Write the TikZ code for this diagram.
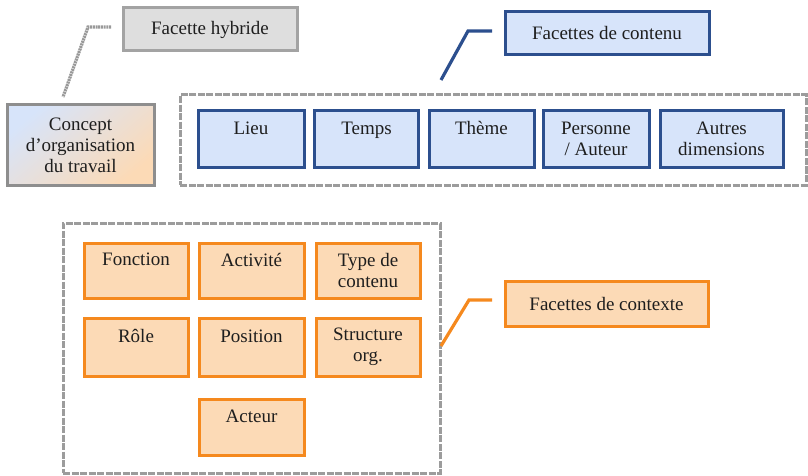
\documentclass[tikz,border=0pt]{standalone}
\usepackage{fontspec}
\setmainfont{Liberation Serif}
\definecolor{bfill}{HTML}{D7E4FA}
\definecolor{bdraw}{HTML}{2C4F8E}
\definecolor{ofill}{HTML}{FCDAB6}
\definecolor{odraw}{HTML}{F5891E}
\definecolor{gfill}{HTML}{DEDEDE}
\definecolor{gdraw}{HTML}{A3A3A3}
\definecolor{frm}{HTML}{9C9C9C}
\definecolor{cdraw}{HTML}{8E8E8E}
\definecolor{txt}{HTML}{1E1E1E}
\begin{document}
\begin{tikzpicture}[x=1pt,y=-1pt,
  every node/.style={font=\fontsize{19}{21}\selectfont, text=txt, align=center, inner sep=2pt},
  box/.style={rectangle, line width=3pt},
  bluebox/.style={box, draw=bdraw, fill=bfill, minimum height=56pt},
  orangebox/.style={box, draw=odraw, fill=ofill},
  greybox/.style={box, draw=gdraw, fill=gfill},
  topline/.style={text depth=22pt},
  frame/.style={rectangle, draw=frm, line width=3pt, dash pattern=on 7pt off 1.5pt},
  callgrey/.style={draw=gray!80, line width=3.2pt, dash pattern=on 2pt off 0.7pt},
  callblue/.style={draw=bdraw, line width=3.2pt},
  callorange/.style={draw=odraw, line width=3.2pt},
]
\useasboundingbox (0,0) rectangle (808,476);

% frames
\node[frame, minimum width=626pt, minimum height=90pt] (cframe) at (493,140) {};
\node[frame, minimum width=377pt, minimum height=250pt] (xframe) at (251.5,348) {};

% hybrid facet
\node[greybox, minimum width=174pt, minimum height=43pt] (hyb) at (210,29.5) {Facette hybride};
\node[box, draw=cdraw, top color=bfill, bottom color=ofill, shading angle=40,
      minimum width=147pt, minimum height=80pt] (concept) at (80.5,145)
      {Concept\\d'organisation\\du travail};

% content facets
\node[bluebox, minimum width=204pt, minimum height=43pt] (clbl) at (607,33.5) {Facettes de contenu};
\node[bluebox, topline, minimum width=106pt] (lieu) at (251,139) {Lieu};
\node[bluebox, topline, minimum width=104pt] (temps) at (366.5,139) {Temps};
\node[bluebox, topline, minimum width=105pt] (theme) at (481.5,139) {Thème};
\node[bluebox, minimum width=106pt] (personne) at (596,139) {Personne\\/ Auteur};
\node[bluebox, minimum width=123pt] (autres) at (721.5,139) {Autres\\dimensions};

% context facets
\node[orangebox, minimum width=203pt, minimum height=45pt] (xlbl) at (606.5,303.5) {Facettes de contexte};
\node[orangebox, topline, minimum width=104pt, minimum height=55pt] (fonction) at (136,270.5) {Fonction};
\node[orangebox, topline, minimum width=105pt, minimum height=55pt] (activite) at (251.5,270.5) {Activité};
\node[orangebox, minimum width=104pt, minimum height=55pt] (type) at (368,270.5) {Type de\\contenu};
\node[orangebox, topline, minimum width=104pt, minimum height=58pt] (role) at (136,347) {Rôle};
\node[orangebox, topline, minimum width=105pt, minimum height=58pt] (position) at (251.5,347) {Position};
\node[orangebox, minimum width=104pt, minimum height=58pt] (structure) at (368,347) {Structure\\org.};
\node[orangebox, topline, minimum width=105pt, minimum height=56pt] (acteur) at (251.5,427) {Acteur};

% callouts
\coordinate (g1) at (111,27);
\coordinate (g2) at (88,27);
\coordinate (g3) at (63,97);
\draw[callgrey] (g1) -- (g2) -- (g3);
\coordinate (b1) at (492,31);
\coordinate (b2) at (468,31);
\coordinate (b3) at (441,80);
\draw[callblue] (b1) -- (b2) -- (b3);
\coordinate (o1) at (492,300);
\coordinate (o2) at (469,300);
\coordinate (o3) at (441,346);
\draw[callorange] (o1) -- (o2) -- (o3);
\end{tikzpicture}
\end{document}
